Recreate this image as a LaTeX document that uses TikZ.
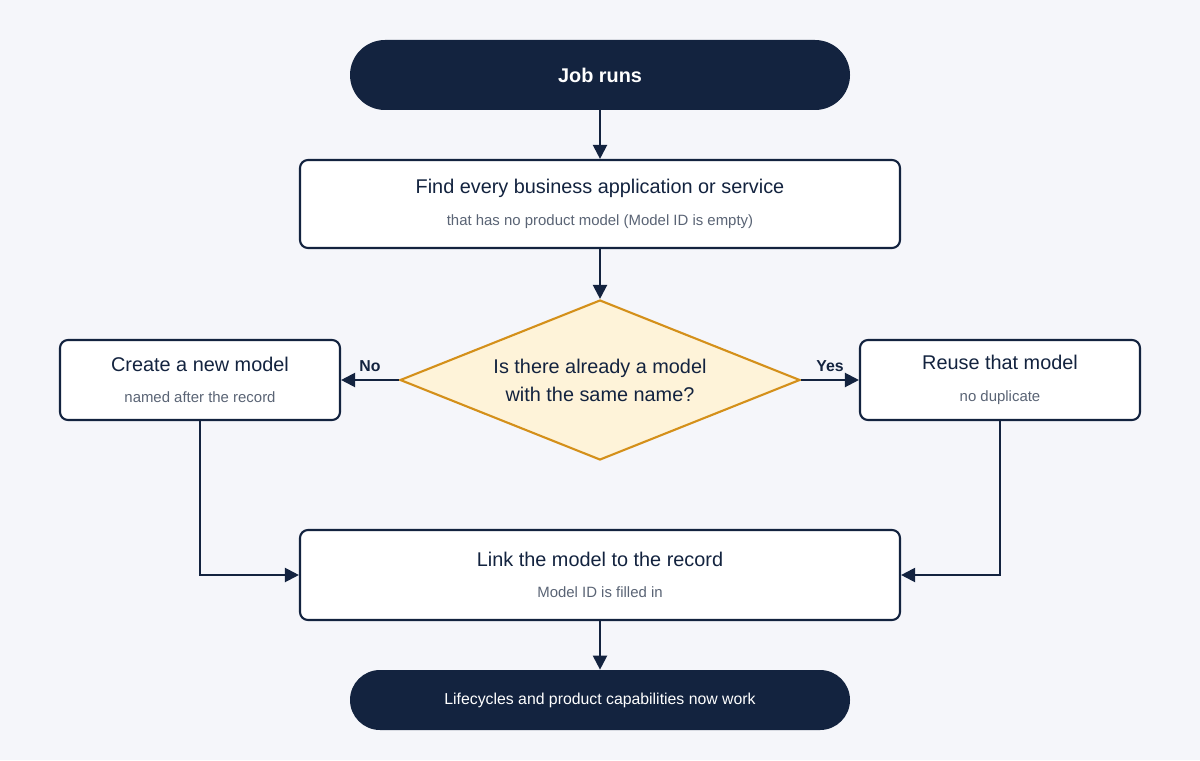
\documentclass[tikz,border=0pt]{standalone}
\usepackage{fontspec}
\setmainfont{Liberation Sans}
\usetikzlibrary{shapes.geometric,arrows.meta,positioning}
\definecolor{navy}{HTML}{13233F}
\definecolor{bgcol}{HTML}{F5F6FA}
\definecolor{subgray}{HTML}{5A6475}
\definecolor{qfill}{HTML}{FEF3D9}
\definecolor{qline}{HTML}{D4901A}
\tikzset{
  pill/.style={draw=none,fill=navy,rounded corners=0.7cm,text=white,font=\bfseries},
  stepbox/.style={draw=navy,fill=white,line width=1.2pt,rounded corners=0.16cm,align=center},
  decision/.style={diamond,draw=qline,fill=qfill,line width=1.2pt,aspect=2.5,inner sep=0pt,minimum width=8cm,minimum height=3.2cm},
  flow/.style={-{Triangle[length=8pt,width=8pt]},navy,line width=1.2pt},
  sub/.style={font=\fontsize{8.5}{10}\selectfont,text=subgray}
}
\begin{document}
\begin{tikzpicture}
\fill[bgcol] (0,0) rectangle (24,15.2);
\useasboundingbox (0,0) rectangle (24,15.2);

\node[pill,minimum width=10cm,minimum height=1.4cm,font=\fontsize{11.3}{13}\selectfont\bfseries] (start) at (12,13.7) {Job runs};
\node[stepbox,minimum width=12cm,minimum height=1.76cm] (find) at (12,11.12)
  {{\fontsize{11.3}{13}\selectfont\color{navy}Find every business application or service}\\[6pt]
   {\fontsize{8.5}{10}\selectfont\color{subgray}that has no product model (Model ID is empty)}};
\node[decision] (ask) at (12,7.6) {};
\node[align=center,text=navy,font=\fontsize{11.3}{16}\selectfont] at (ask) {Is there already a model\\with the same name?};
\node[stepbox,minimum width=5.6cm,minimum height=1.6cm] (create) at (4,7.6)
  {{\fontsize{11.3}{13}\selectfont\color{navy}Create a new model}\\[6pt]
   {\fontsize{8.5}{10}\selectfont\color{subgray}named after the record}};
\node[stepbox,minimum width=5.6cm,minimum height=1.6cm] (reuse) at (20,7.6)
  {{\fontsize{11.3}{13}\selectfont\color{navy}Reuse that model}\\[6pt]
   {\fontsize{8.5}{10}\selectfont\color{subgray}no duplicate}};
\node[stepbox,minimum width=12cm,minimum height=1.8cm] (link) at (12,3.7)
  {{\fontsize{11.3}{13}\selectfont\color{navy}Link the model to the record}\\[6pt]
   {\fontsize{8.5}{10}\selectfont\color{subgray}Model ID is filled in}};
\node[pill,minimum width=10cm,minimum height=1.2cm,rounded corners=0.6cm,font=\fontsize{9}{11}\selectfont] (finish) at (12,1.2) {Lifecycles and product capabilities now work};

\draw[flow] (start) -- (find);
\draw[flow] (find) -- (ask);
\draw[flow] (ask.west) -- node[above=1pt,pos=0.5,font=\fontsize{9}{11}\selectfont\bfseries,text=navy]{No} (create.east);
\draw[flow] (ask.east) -- node[above=1pt,pos=0.5,font=\fontsize{9}{11}\selectfont\bfseries,text=navy]{Yes} (reuse.west);
\draw[flow] (create.south) |- (link.west);
\draw[flow] (reuse.south) |- (link.east);
\draw[flow] (link) -- (finish);
\end{tikzpicture}
\end{document}
